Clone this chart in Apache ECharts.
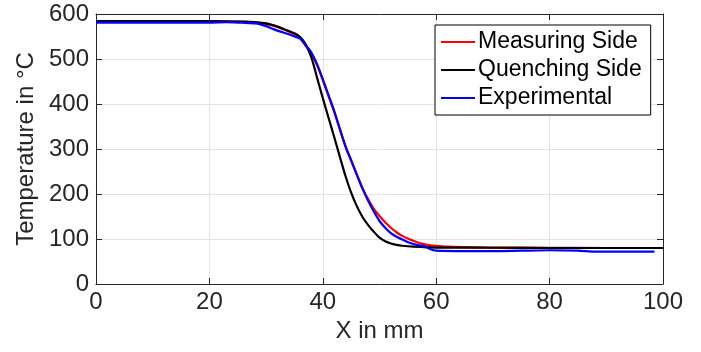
<!DOCTYPE html>
<html>
<head>
<meta charset="utf-8">
<script src="https://cdn.jsdelivr.net/npm/echarts@6/dist/echarts.min.js"></script>
<style>html,body{margin:0;padding:0;background:#fff}#c{width:701px;height:352px}</style>
</head>
<body>
<div id="c"></div>
<script>
// ---- data ----
const seriesNames = ['Measuring Side', 'Quenching Side', 'Experimental'];

const measX = [0,10,20,25,28,30,32,34,36,37,38,39,40,41,42,43,44,45,46,47,48,49,50,51,52,53,54,55,56,57,58,59,60,62,65,70,80,90,100];
const measT = [584,584,584,583,581,578,571,561,548,530,512,486,453,418,383,344,306,274,243,213,188,167,151,137,125,115,107,101,96,91,88,86,85,83,82,81,80.5,80,80];

const quenchX = [0,10,20,25,28,30,31,32,33,34,35,36,37,38,39,40,41,42,43,44,45,46,47,48,49,50,51,52,53,54,56,60,70,80,90,100];
const quenchT = [584,584,584,583,582,579,576,572,567,562,557,549,532,503,458,413,370,327,283,240,203,173,149,131,116,103,95,90,87,85,83,81,80.5,80,80,80];

const expX = [0,10,20,23,25,28,29,30,31,32,33,34,35,36,37,38,39,40,41,42,43,44,45,46,47,48,49,50,51,52,53,54,55,56,57,58,59,60,65,70,75,80,85,88,90,95,98.5];
const expT = [581,581,581,582,581,579,577,573,568,563,559,555,550,545,530,514,488,455,420,385,345,306,275,243,212,185,161,140,125,113,105,99,93,89,86,84,77,74,73,73,74,75,74,72,72,72,72];

const xTicks = [0,20,40,60,80,100];
const yTicks = [0,100,200,300,400,500,600];

const pairs = (xs, ys) => xs.map((x, i) => [x, ys[i]]);

const axisColor = '#262626';
const gridColor = '#e3e3e3';
const font = 'Liberation Sans, Arial, sans-serif';

const chart = echarts.init(document.getElementById('c'));
const baseX = {
  type: 'value', min: xTicks[0], max: xTicks[xTicks.length-1], interval: xTicks[1]-xTicks[0],
  axisLine: {show: true, onZero: false, lineStyle: {color: axisColor, width: 1}},
  axisTick: {show: true, inside: true, length: 6, lineStyle: {color: axisColor}},
};
const baseY = {
  type: 'value', min: yTicks[0], max: yTicks[yTicks.length-1], interval: yTicks[1]-yTicks[0],
  axisLine: {show: true, onZero: false, lineStyle: {color: axisColor, width: 1}},
  axisTick: {show: true, inside: true, length: 6, lineStyle: {color: axisColor}},
};

chart.setOption({
  animation: false,
  backgroundColor: '#fff',
  grid: {left: 96, right: 38, top: 14, bottom: 68, containLabel: false},
  legend: {
    orient: 'vertical', left: 435, top: 25,
    backgroundColor: '#fff', borderColor: '#000', borderWidth: 1,
    padding: [4, 9, 4, 6], itemGap: 2, itemWidth: 34, itemHeight: 2,
    icon: 'rect',
    textStyle: {fontFamily: font, fontSize: 23, color: '#000', lineHeight: 26, padding: [0,0,0,-2]},
    data: seriesNames
  },
  xAxis: [
    Object.assign({}, baseX, {
      position: 'bottom',
      name: 'X in mm', nameLocation: 'middle', nameGap: 30,
      nameTextStyle: {fontFamily: font, fontSize: 24, color: axisColor},
      axisLabel: {fontFamily: font, fontSize: 24, color: axisColor, margin: 6},
      splitLine: {show: true, lineStyle: {color: gridColor, width: 1}}
    }),
    Object.assign({}, baseX, {
      position: 'top', axisLabel: {show: false}, splitLine: {show: false}
    })
  ],
  yAxis: [
    Object.assign({}, baseY, {
      position: 'left',
      name: 'Temperature in °C', nameLocation: 'middle', nameGap: 56, nameRotate: 90,
      nameTextStyle: {fontFamily: font, fontSize: 24, color: axisColor},
      axisLabel: {fontFamily: font, fontSize: 24, color: axisColor, margin: 7},
      splitLine: {show: true, lineStyle: {color: gridColor, width: 1}}
    }),
    Object.assign({}, baseY, {
      position: 'right', axisLabel: {show: false}, splitLine: {show: false}
    })
  ],
  series: [
    {name: seriesNames[0], type: 'line', data: pairs(measX, measT), smooth: 0.3, symbol: 'none',
     lineStyle: {color: '#ff0000', width: 2.2}, itemStyle: {color: '#ff0000'}, z: 2},
    {name: seriesNames[1], type: 'line', data: pairs(quenchX, quenchT), smooth: 0.3, symbol: 'none',
     lineStyle: {color: '#000000', width: 2.2}, itemStyle: {color: '#000000'}, z: 3},
    {name: seriesNames[2], type: 'line', data: pairs(expX, expT), smooth: 0.3, symbol: 'none',
     lineStyle: {color: '#0000ff', width: 2.2}, itemStyle: {color: '#0000ff'}, z: 4}
  ]
});
</script>
</body>
</html>
